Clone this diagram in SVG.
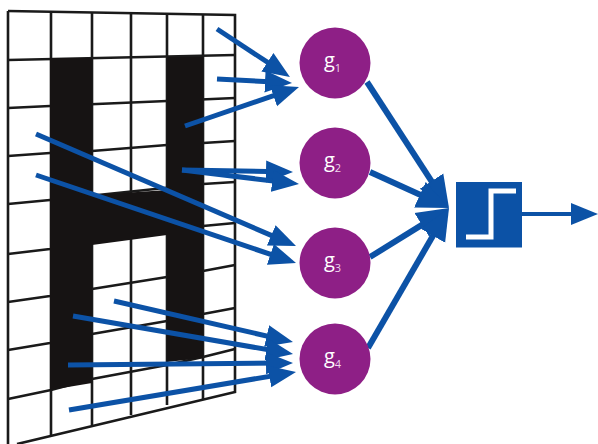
<svg xmlns="http://www.w3.org/2000/svg" width="598" height="444" viewBox="0 0 598 444">
<style>
.grid{fill:none;stroke:#1a1a1a;stroke-width:2.600}
.ink{fill:#161313}
.c{fill:#8e1f86}
.t{font-family:"Open Sans","Noto Sans",sans-serif;fill:#fff;font-size:20px}
.s{font-size:11px;fill:#f0d8ee}
.a{fill:none;stroke:#0c52a6;stroke-width:5;marker-end:url(#h)}
.b{fill:none;stroke:#0c52a6;stroke-width:6;marker-end:url(#H)}
.o{fill:none;stroke:#0c52a6;stroke-width:4;marker-end:url(#h)}
</style>
<defs>
<marker id="h" markerUnits="userSpaceOnUse" markerWidth="28" markerHeight="24" refX="14" refY="12" orient="auto"><path d="M0,1 L27,12 L0,23 Z" fill="#0c52a6"/></marker>
<marker id="H" markerUnits="userSpaceOnUse" markerWidth="33" markerHeight="30" refX="19" refY="15" orient="auto"><path d="M0,1 L32,15 L0,29 Z" fill="#0c52a6"/></marker>
</defs>
<rect width="598" height="444" fill="#fff"/>
<g id="grid">
<g class="grid">
<polyline points="8,11 235,15 235,392 17,444"/>
<line x1="8" y1="11" x2="8" y2="444"/>
<line x1="51" y1="12" x2="51" y2="435"/>
<line x1="92" y1="12" x2="92" y2="425"/>
<line x1="131" y1="13" x2="131" y2="415"/>
<line x1="167" y1="14" x2="167" y2="405"/>
<line x1="203" y1="14" x2="203" y2="399"/>
<polyline points="8,60 235,55"/>
<polyline points="8,108 50,106 167,101 235,98"/>
<polyline points="8,156 50,153 92,151 167,145 203,143 235,141"/>
<polyline points="8,204 50,200 203,184 235,182"/>
<polyline points="8,254 50,249 203,226 235,223"/>
<polyline points="8,302 50,296 92,289 167,277 203,271 235,265"/>
<polyline points="8,350 50,343 92,334 167,321 203,314 235,308"/>
<polyline points="8,399 51,390 92,379 167,365 203,357 235,349"/>
</g>
<path class="ink" d="M50,58 L92,58 L92,195 L167,190 L167,57 L203,57 L203,358 L167,362 L167,235 L92,245 L92,383 L50,390 Z"/>
</g>
<g id="connectors">
<line class="a" x1="217" y1="29" x2="279.1" y2="69.9"/>
<line class="a" x1="217" y1="79" x2="279" y2="82.3"/>
<line class="a" x1="185" y1="126" x2="286.7" y2="91.2"/>
<line class="a" x1="182" y1="170" x2="280" y2="171.8"/>
<line class="a" x1="182" y1="170" x2="286.1" y2="182.5"/>
<line class="a" x1="36" y1="134" x2="284.1" y2="240.9"/>
<line class="a" x1="36" y1="175" x2="283.7" y2="258.8"/>
<line class="a" x1="114" y1="301" x2="280.3" y2="339.1"/>
<line class="a" x1="73" y1="316" x2="280.2" y2="351.8"/>
<line class="a" x1="68" y1="365" x2="280" y2="363.1"/>
<line class="a" x1="69" y1="410" x2="283.2" y2="374.1"/>
<line class="b" x1="367" y1="82" x2="441.9" y2="197.1"/>
<line class="b" x1="370" y1="172" x2="437.2" y2="202.6"/>
<line class="b" x1="370" y1="257" x2="438" y2="214.9"/>
<line class="b" x1="368" y1="348" x2="442.5" y2="219.3"/>
<line class="o" x1="522" y1="214" x2="585" y2="214"/>
</g>
<g id="g1"><circle class="c" cx="335" cy="63" r="35.500"/><text class="t" x="324" y="67">g<tspan class="s" dy="5">1</tspan></text></g>
<g id="g2"><circle class="c" cx="335" cy="163" r="35.500"/><text class="t" x="324" y="167">g<tspan class="s" dy="5">2</tspan></text></g>
<g id="g3"><circle class="c" cx="335" cy="263" r="35.500"/><text class="t" x="324" y="267">g<tspan class="s" dy="5">3</tspan></text></g>
<g id="g4"><circle class="c" cx="335" cy="359" r="35.500"/><text class="t" x="324" y="363">g<tspan class="s" dy="5">4</tspan></text></g>
<g id="threshold">
<rect x="456" y="182" width="66" height="65.500" fill="#0c52a6"/>
<polyline points="466,237 491,237 491,191 516,191" fill="none" stroke="#fff" stroke-width="5"/>
</g>
</svg>
